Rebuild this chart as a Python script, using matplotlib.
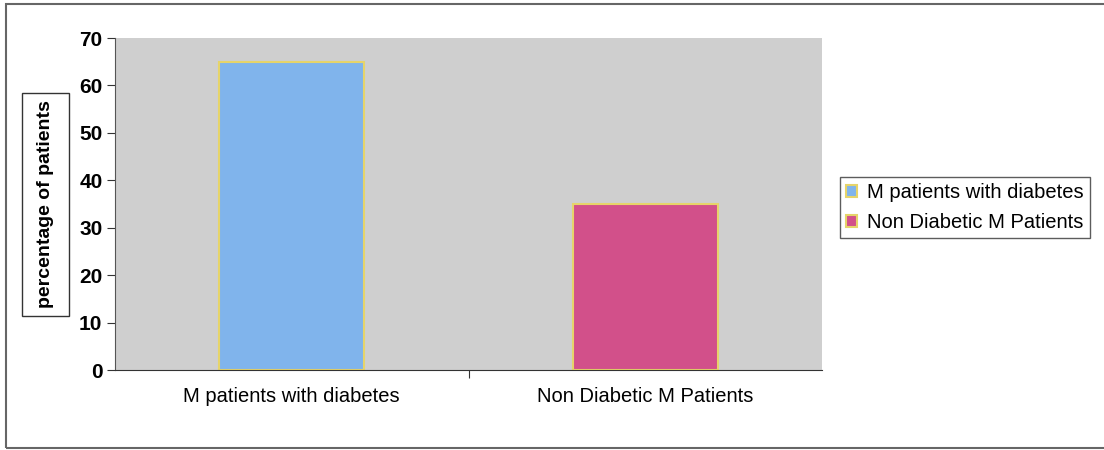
import matplotlib.pyplot as plt
from matplotlib.patches import Rectangle
from matplotlib.transforms import blended_transform_factory

categories = ["M patients with diabetes", "Non Diabetic M Patients"]
values = [65, 35]
colors = ["#80b4ec", "#d2508a"]
yticks = [0, 10, 20, 30, 40, 50, 60, 70]

plt.rcParams['font.family'] = ['Liberation Sans', 'DejaVu Sans']

W, H = 1104, 450
fig = plt.figure(figsize=(W / 100, H / 100), dpi=100)
ax = fig.add_axes([115 / W, 1 - 370 / H, 707 / W, 332 / H])
ax.set_facecolor("#cfcfcf")

x = range(len(categories))
bars = ax.bar(x, values, width=0.41, color=colors, edgecolor="#e6d46a",
              linewidth=1.5, zorder=2)

ax.set_xlim(-0.5, 1.5)
ax.set_ylim(0, 70)
ax.set_yticks(yticks)
ax.set_yticklabels([str(t) for t in yticks], fontsize=15, fontweight='bold')
ax.tick_params(axis='y', length=6, color="#333333", pad=3)
ax.set_xticks([0.5], [""])
ax.tick_params(axis='x', length=6, color="#333333")

# category names under the bars
trans = blended_transform_factory(ax.transData, ax.transAxes)
for i, c in enumerate(categories):
    ax.text(i, -27 / 332, c, ha='center', va='center', fontsize=14.5,
            transform=trans)

for side in ["top", "right"]:
    ax.spines[side].set_visible(False)
ax.spines["left"].set_color("#555555")
ax.spines["bottom"].set_color("#333333")

# y-axis title inside a box
fig.patches.append(Rectangle((22 / W, 1 - 316 / H), 47 / W, 223 / H,
                             transform=fig.transFigure, fill=False,
                             ec="#333333", lw=1))
fig.text(45.5 / W, 1 - 204 / H, "percentage of patients", rotation=90,
         ha='center', va='center', fontsize=14, fontweight='bold')

# legend
leg = fig.legend(handles=bars, labels=categories, loc='upper left',
                 bbox_to_anchor=(840 / W, 1 - 177 / H), borderaxespad=0,
                 fontsize=14.5, frameon=True, fancybox=False,
                 edgecolor='#333333', handlelength=0.55, handleheight=0.55,
                 handletextpad=0.5, borderpad=0.3, labelspacing=0.55)
leg.get_frame().set_linewidth(1)

# outer chart frame
fig.patches.append(Rectangle((6 / W, 2 / H), 1.0, 444 / H,
                             transform=fig.transFigure, fill=False,
                             ec="#666666", lw=1.5))

fig.savefig("out.png", dpi=100, facecolor='white')
